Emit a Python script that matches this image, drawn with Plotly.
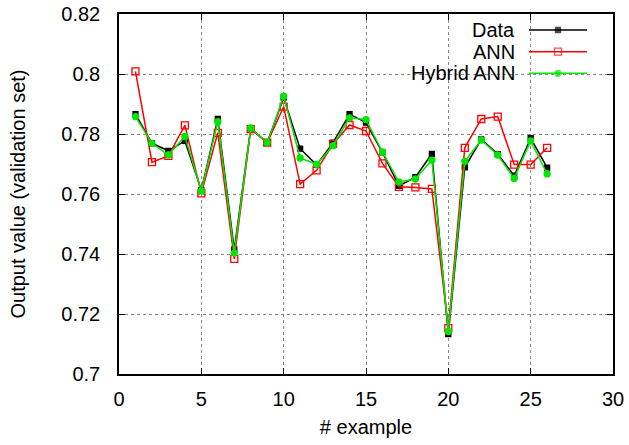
import plotly.graph_objects as go

examples = list(range(1, 27))
data_vals = [0.7866, 0.7769, 0.7744, 0.7777, 0.7613, 0.7850, 0.7415, 0.7819, 0.7771, 0.7921,
             0.7751, 0.7697, 0.7771, 0.7866, 0.7838, 0.7739, 0.7627, 0.7656, 0.7734, 0.7133,
             0.7689, 0.7782, 0.7733, 0.7661, 0.7786, 0.7688]
ann_vals = [0.8009, 0.7706, 0.7727, 0.7829, 0.7602, 0.7804, 0.7384, 0.7816, 0.7771, 0.7891,
            0.7633, 0.7679, 0.7767, 0.7830, 0.7810, 0.7702, 0.7624, 0.7622, 0.7617, 0.7153,
            0.7754, 0.7850, 0.7858, 0.7698, 0.7698, 0.7754]
hybrid_vals = [0.7858, 0.7769, 0.7730, 0.7792, 0.7610, 0.7841, 0.7403, 0.7820, 0.7771, 0.7926,
               0.7720, 0.7699, 0.7761, 0.7854, 0.7848, 0.7740, 0.7640, 0.7650, 0.7713, 0.7142,
               0.7709, 0.7780, 0.7730, 0.7652, 0.7777, 0.7667]
series_names = ["Data", "ANN", "Hybrid ANN"]
x_ticks = [0, 5, 10, 15, 20, 25, 30]
y_ticks = [0.70, 0.72, 0.74, 0.76, 0.78, 0.80, 0.82]
y_tick_text = ["0.7", "0.72", "0.74", "0.76", "0.78", "0.8", "0.82"]
x_range = [0, 30]
y_range = [0.70, 0.82]

FONT = "Liberation Sans, Arial, sans-serif"
FS = 20
styles = [
    dict(color="#000000", symbol="square", size=5),
    dict(color="#ff0000", symbol="square-open", size=7),
    dict(color="#00e600", symbol="circle", size=6),
]

fig = go.Figure()
for name, vals, st in zip(series_names, [data_vals, ann_vals, hybrid_vals], styles):
    fig.add_trace(go.Scatter(
        x=examples, y=vals, mode="lines+markers", name=name,
        line=dict(color=st["color"], width=1.5),
        marker=dict(color=st["color"], symbol=st["symbol"], size=st["size"],
                    line=dict(color=st["color"], width=1.3)),
        showlegend=False,
    ))

# gnuplot-style legend: right-aligned text, sample line to the right, opaque box
W, H = 629, 445
ml, mr, mt, mb = 119, 16, 14, 71
pw, ph = W - ml - mr, H - mt - mb
def px_to_paper(px, py):
    return (px - ml) / pw, 1 - (py - mt) / ph
def paper_to_data(fx, fy):
    return (x_range[0] + fx * (x_range[1] - x_range[0]),
            y_range[0] + fy * (y_range[1] - y_range[0]))

bx0, by0 = paper_to_data(*px_to_paper(383, 15))
bx1, by1 = paper_to_data(*px_to_paper(600, 85))
fig.add_shape(type="rect", xref="x", yref="y", x0=bx0, x1=bx1, y0=by1, y1=by0,
              fillcolor="white", line=dict(width=0), layer="below")

rows_y = [30, 51.7, 73.3]
for i, (name, st) in enumerate(zip(series_names, styles)):
    tx, ty = px_to_paper(517, rows_y[i])
    fig.add_annotation(x=tx, y=ty, xref="paper", yref="paper", text=name,
                       showarrow=False, xanchor="right", yanchor="middle",
                       font=dict(family=FONT, size=FS, color="black"))
    x0, y0 = paper_to_data(*px_to_paper(529, rows_y[i]))
    x1, _ = paper_to_data(*px_to_paper(587, rows_y[i]))
    fig.add_trace(go.Scatter(
        x=[x0, (x0 + x1) / 2, x1], y=[y0, y0, y0],
        mode="lines+markers", line=dict(color=st["color"], width=1.5),
        marker=dict(color=st["color"], symbol=st["symbol"], size=[0, st["size"], 0],
                    line=dict(color=st["color"], width=1.3)),
        showlegend=False, hoverinfo="skip", cliponaxis=False,
    ))

axis_common = dict(
    showline=True, linecolor="black", linewidth=1.5, mirror="allticks",
    ticks="inside", ticklen=6, tickwidth=1, tickcolor="black",
    showgrid=True, gridcolor="#888888", griddash="dot", gridwidth=1,
    zeroline=False, tickfont=dict(family=FONT, size=FS, color="black"),
    automargin=False, layer="above traces",
)
fig.update_layout(
    width=W, height=H,
    margin=dict(l=ml, r=mr, t=mt, b=mb, autoexpand=False),
    paper_bgcolor="white", plot_bgcolor="white",
    font=dict(family=FONT, size=FS, color="black"),
    xaxis=dict(range=x_range, tickvals=x_ticks, ticklabelstandoff=6,
               title=dict(text="# example", font=dict(family=FONT, size=FS), standoff=11),
               **axis_common),
    yaxis=dict(range=y_range, tickvals=y_ticks, ticktext=y_tick_text, ticklabelstandoff=13,
               title=dict(text="Output value (validation set)", font=dict(family=FONT, size=FS), standoff=30),
               **axis_common),
)
fig.write_html("out.html")
